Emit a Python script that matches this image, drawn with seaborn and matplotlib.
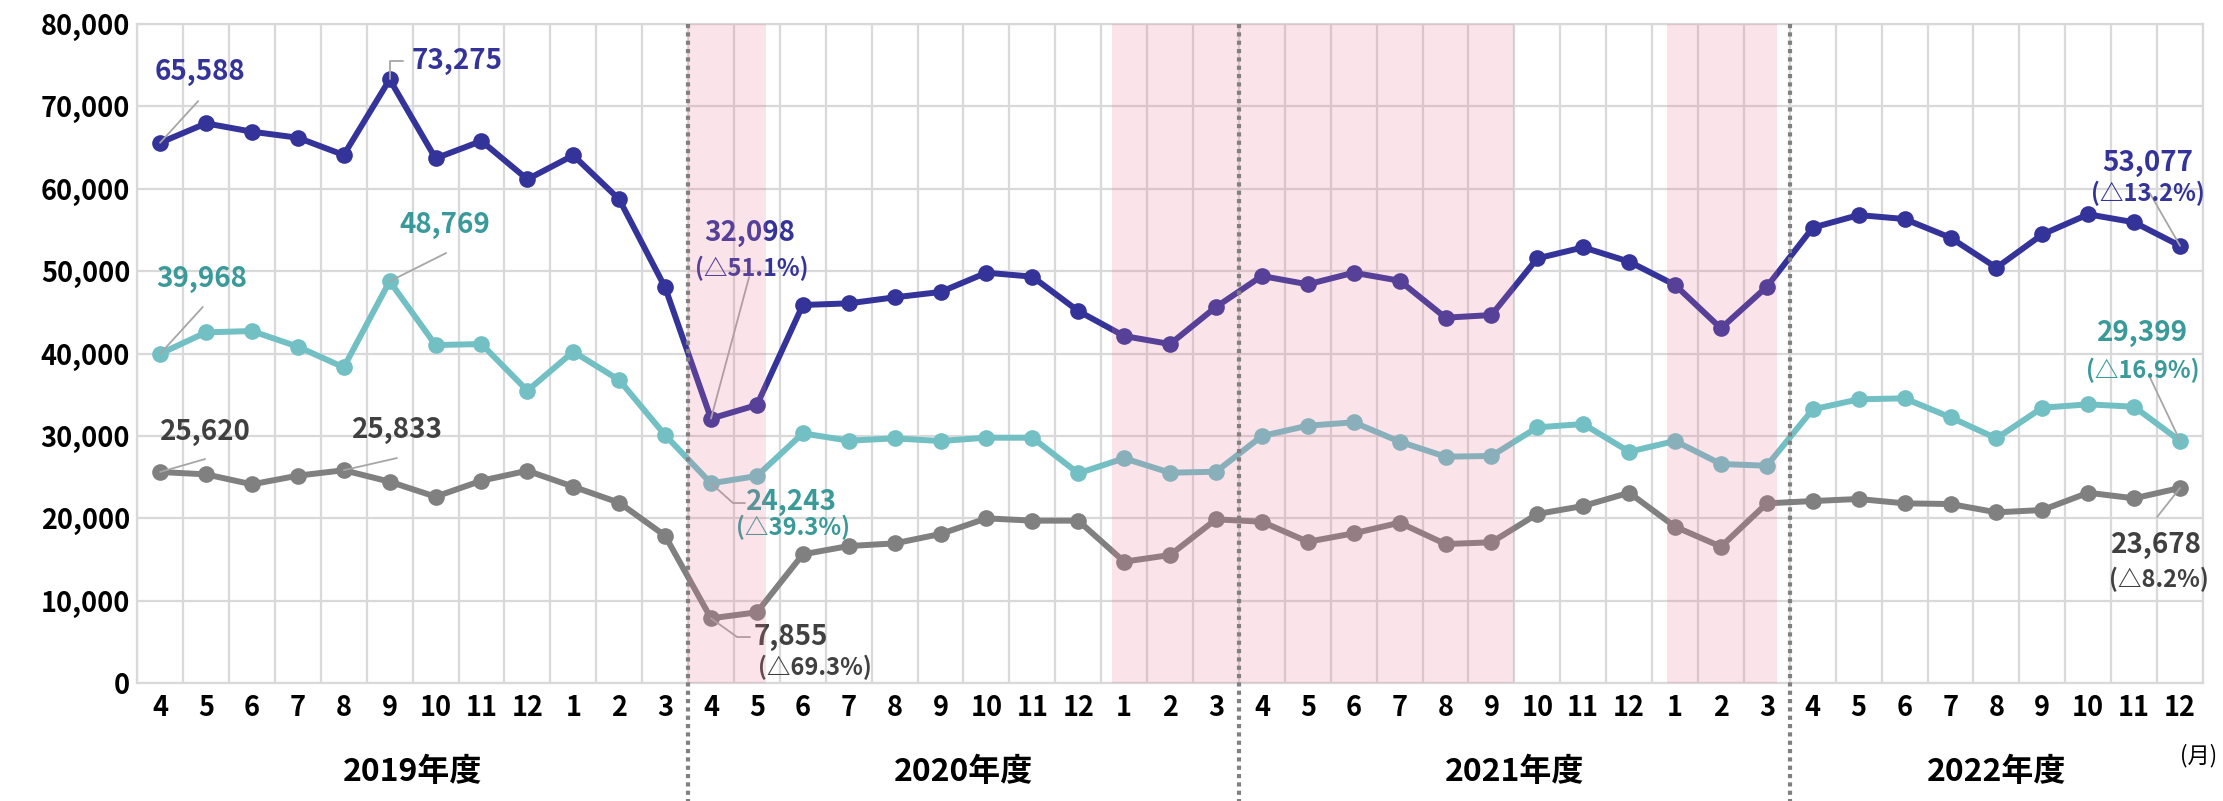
import numpy as np
import pandas as pd
import matplotlib
matplotlib.use("Agg")
import matplotlib.pyplot as plt
import seaborn as sns

# --- data -------------------------------------------------------------
months = [4, 5, 6, 7, 8, 9, 10, 11, 12, 1, 2, 3] * 3 + [4, 5, 6, 7, 8, 9, 10, 11, 12]
fiscal_years = ['2019年度', '2020年度', '2021年度', '2022年度']
months_per_year = [12, 12, 12, 9]

navy_series = [65588, 67940, 66930, 66200, 64100, 73275, 63690, 65800, 61150, 64060, 58720, 48030,
               32098, 33750, 45890, 46090, 46820, 47470, 49810, 49330, 45160, 42120, 41150, 45650,
               49410, 48400, 49810, 48840, 44350, 44670, 51550, 52890, 51150, 48320, 43060, 48110,
               55280, 56810, 56330, 54060, 50420, 54460, 56900, 55930, 53077]
teal_series = [39968, 42570, 42730, 40830, 38320, 48769, 41030, 41150, 35490, 40220, 36780, 30100,
               24243, 25130, 30310, 29420, 29700, 29380, 29780, 29780, 25460, 27280, 25530, 25650,
               29980, 31240, 31650, 29300, 27480, 27560, 31040, 31440, 28080, 29380, 26590, 26380,
               33220, 34440, 34560, 32250, 29700, 33420, 33830, 33540, 29399]
gray_series = [25620, 25330, 24120, 25170, 25833, 24440, 22620, 24560, 25770, 23830, 21890, 17880,
               7855, 8580, 15620, 16630, 16950, 18090, 19990, 19710, 19710, 14730, 15540, 19870,
               19580, 17150, 18170, 19460, 16870, 17080, 20520, 21490, 23100, 18980, 16550, 21810,
               22090, 22340, 21810, 21730, 20720, 21000, 23100, 22420, 23678]

# shaded periods (in month-slot units)
period_start = [11.5, 20.73, 32.83]
period_end = [13.2, 29.5, 35.21]

colors = {'navy': '#333399', 'teal': '#72BFC4', 'gray': '#808080'}
label_colors = {'navy': '#333399', 'teal': '#3A9A9A', 'gray': '#404040'}

x = np.arange(len(months))
df = pd.concat([
    pd.DataFrame({'idx': x, 'value': navy_series, 'series': 'navy'}),
    pd.DataFrame({'idx': x, 'value': teal_series, 'series': 'teal'}),
    pd.DataFrame({'idx': x, 'value': gray_series, 'series': 'gray'}),
])
values = {'navy': navy_series, 'teal': teal_series, 'gray': gray_series}

# --- style ------------------------------------------------------------
sns.set_theme(style="white")
plt.rcParams['font.family'] = ['Noto Sans CJK JP', 'DejaVu Sans']

fig, ax = plt.subplots(figsize=(22.23, 8.01), dpi=100)
fig.subplots_adjust(left=0.0617, right=0.9910, bottom=0.1473, top=0.9700)

sns.lineplot(data=df, x='idx', y='value', hue='series', palette=colors, legend=False,
             marker='o', markersize=12, markeredgewidth=0, linewidth=4.3, ax=ax, zorder=3)

# shaded periods drawn over the lines (as in the original)
for s, e in zip(period_start, period_end):
    ax.axvspan(s, e, color='#E87896', alpha=0.2, lw=0, zorder=5)

# grid
ax.set_xlim(-0.5, len(months) - 0.5)
ax.set_ylim(0, 80000)
ax.set_yticks(np.arange(0, 80001, 10000))
ax.set_yticklabels([f'{v:,}' for v in range(0, 80001, 10000)])
ax.set_xticks(x)
ax.set_xticklabels([str(m) for m in months])
ax.set_xticks(np.arange(-0.5, len(months), 1), minor=True)
ax.grid(axis='y', which='major', color='#D9D9D9', lw=1.6)
ax.grid(axis='x', which='minor', color='#D9D9D9', lw=1.6)
ax.grid(axis='x', which='major', visible=False)
ax.set_axisbelow(True)
for sp in ax.spines.values():
    sp.set_color('#D9D9D9')
    sp.set_linewidth(1.6)
ax.tick_params(axis='both', which='both', length=0)
ax.tick_params(axis='y', pad=5, labelsize=19.5)
ax.tick_params(axis='x', pad=8, labelsize=19.5)
for lab in ax.get_xticklabels() + ax.get_yticklabels():
    lab.set_fontweight('bold')
    lab.set_color('black')
ax.set_xlabel('')
ax.set_ylabel('')

# fiscal year labels and separators
ends = np.cumsum(months_per_year)
starts = ends - np.array(months_per_year)
xt = ax.get_xaxis_transform()
for name, s, n in zip(fiscal_years, starts, months_per_year):
    ax.text(s + (n - 1) / 2, -0.135, name, transform=xt, ha='center', va='center',
            fontsize=23, fontweight='bold', color='black')
for b in ends[:-1]:
    ax.plot([b - 0.5, b - 0.5], [1.0, -0.18], transform=xt, clip_on=False,
            color='#808080', lw=3, ls=(0, (1, 1)), zorder=6)
ax.text(44.4, -0.11, '(月)', transform=xt, ha='center', va='center', fontsize=16, color='black')

# annotations: (series, index, label, pct, text pos, pct pos, leader path)
annotations = [
    ('navy', 0, '65,588', None, (0.87, 74170), None, [(0.83, 70650)]),
    ('navy', 5, '73,275', None, (5.48, 75510), None, [(5.0, 75510), (5.30, 75510)]),
    ('teal', 0, '39,968', None, (0.91, 49040), None, [(0.93, 45650)]),
    ('teal', 5, '48,769', None, (6.21, 55600), None, [(6.23, 52200)]),
    ('gray', 0, '25,620', None, (0.98, 30470), None, [(0.98, 27190)]),
    ('gray', 4, '25,833', None, (5.16, 30710), None, [(5.16, 27310)]),
    ('navy', 12, '32,098', '(△51.1%)', (12.85, 54630), (12.89, 50380), [(12.83, 49290)]),
    ('teal', 12, '24,243', '(△39.3%)', (13.76, 21970), (13.79, 18940), [(12.48, 21850), (12.74, 21850)]),
    ('gray', 12, '7,855', '(△69.3%)', (13.74, 5580), (14.26, 1940), [(12.57, 5580), (12.85, 5580)]),
    ('navy', 44, '53,077', '(△13.2%)', (43.30, 63130), (43.30, 59480), [(43.34, 59480)]),
    ('teal', 44, '29,399', '(△16.9%)', (43.19, 42490), (43.19, 38000), [(43.34, 37150)]),
    ('gray', 44, '23,678', '(△8.2%)', (43.48, 16750), (43.54, 12630), [(43.50, 20150)]),
]
for key, i, lab, pct, tpos, ppos, path in annotations:
    px = [i] + [p[0] for p in path]
    py = [values[key][i]] + [p[1] for p in path]
    ax.plot(px, py, color='#A6A6A6', lw=1.3, zorder=4)
    ha = 'left' if (key == 'navy' and i == 5) else 'center'
    ax.text(tpos[0], tpos[1], lab, ha=ha, va='center', fontsize=20, fontweight='bold',
            color=label_colors[key], zorder=4)
    if pct:
        ax.text(ppos[0], ppos[1], pct, ha='center', va='center', fontsize=17, fontweight='bold',
                color=label_colors[key], zorder=4)

plt.savefig('out.png', dpi=100)
